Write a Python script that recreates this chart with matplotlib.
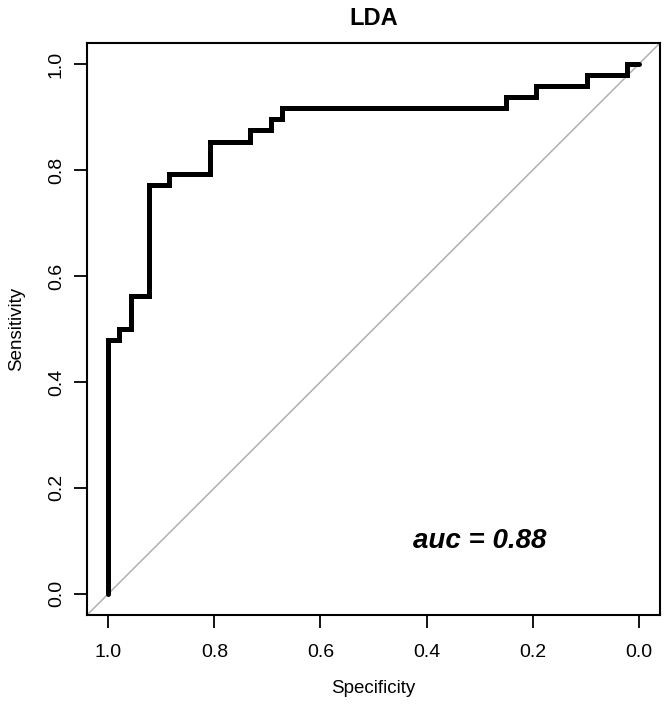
import matplotlib.pyplot as plt

plt.rcParams['font.family'] = ['Liberation Sans', 'DejaVu Sans']

# ROC curve corners (specificity, sensitivity)
specificity = [1.0, 1.0, 0.979, 0.979, 0.958, 0.958, 0.923, 0.923, 0.885, 0.885,
               0.808, 0.808, 0.732, 0.732, 0.694, 0.694, 0.673, 0.673, 0.251, 0.251,
               0.194, 0.194, 0.098, 0.098, 0.022, 0.022, 0.0]
sensitivity = [0.0, 0.479, 0.479, 0.500, 0.500, 0.5625, 0.5625, 0.771, 0.771, 0.792,
               0.792, 0.854, 0.854, 0.875, 0.875, 0.896, 0.896, 0.917, 0.917, 0.9375,
               0.9375, 0.958, 0.958, 0.979, 0.979, 1.0, 1.0]
ticks = [1.0, 0.8, 0.6, 0.4, 0.2, 0.0]
tick_labels = ['1.0', '0.8', '0.6', '0.4', '0.2', '0.0']
auc_text = 'auc = 0.88'

fig = plt.figure(figsize=(6.71, 7.07), dpi=100)
ax = fig.add_axes([0.1297, 0.1301, 0.8539, 0.8091])

# chance line, runs corner to corner
ax.plot([1.04, -0.04], [-0.04, 1.04], color='#b0b0b0', lw=1.1, zorder=1)
ax.plot(specificity, sensitivity, color='black', lw=3.6,
        solid_joinstyle='miter', solid_capstyle='round', zorder=2)

ax.set_xlim(1.04, -0.04)
ax.set_ylim(-0.04, 1.04)
ax.set_xticks(ticks)
ax.set_xticklabels(tick_labels)
ax.set_yticks(ticks)
ax.set_yticklabels(tick_labels, rotation=90, va='center')
ax.tick_params(axis='both', direction='out', length=9.4, width=1.3,
               labelsize=14, colors='black')
ax.tick_params(axis='x', pad=11.7)
ax.tick_params(axis='y', pad=6.5)
for s in ax.spines.values():
    s.set_linewidth(1.5)

ax.set_xlabel('Specificity', fontsize=13.5, labelpad=13.5)
ax.set_ylabel('Sensitivity', fontsize=13.5, labelpad=16.5)
ax.set_title('LDA', fontsize=17, fontweight='bold', pad=13)

ax.text(0.30, 0.10, auc_text, fontsize=20, fontweight='bold', fontstyle='italic',
        ha='center', va='center')

fig.savefig('out.png', dpi=100)
